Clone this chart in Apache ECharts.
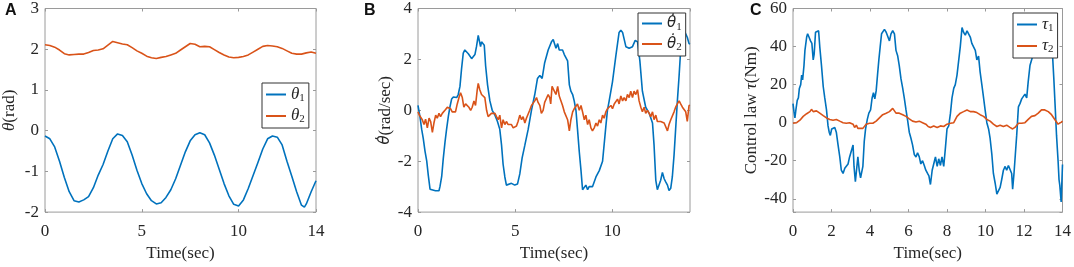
<!DOCTYPE html>
<html>
<head>
<meta charset="utf-8">
<script src="https://cdn.jsdelivr.net/npm/echarts@6/dist/echarts.min.js"></script>
<style>
  html, body { margin: 0; padding: 0; background: #fff; }
  #chart { width: 1074px; height: 267px; }
</style>
</head>
<body>
<div id="chart"></div>
<script>
// panel A: joint angles [t, rad]
const theta1 = [[0,-0.13],[0.25,-0.2],[0.5,-0.4],[0.75,-0.75],[1,-1.15],[1.25,-1.5],[1.5,-1.72],[1.75,-1.75],[2,-1.7],[2.25,-1.62],[2.5,-1.4],[2.75,-1.09],[3,-0.83],[3.25,-0.5],[3.5,-0.2],[3.75,-0.08],[4,-0.12],[4.25,-0.27],[4.5,-0.6],[4.75,-0.97],[5,-1.3],[5.25,-1.55],[5.5,-1.72],[5.75,-1.8],[6,-1.77],[6.25,-1.64],[6.5,-1.45],[6.75,-1.18],[7,-0.85],[7.25,-0.52],[7.5,-0.25],[7.75,-0.1],[8,-0.05],[8.25,-0.1],[8.5,-0.3],[8.75,-0.6],[9,-0.95],[9.25,-1.3],[9.5,-1.6],[9.75,-1.81],[10,-1.85],[10.25,-1.7],[10.5,-1.42],[10.75,-1.1],[11,-0.78],[11.25,-0.45],[11.5,-0.2],[11.75,-0.13],[12,-0.16],[12.25,-0.35],[12.5,-0.75],[12.75,-1.12],[13,-1.5],[13.25,-1.83],[13.4,-1.88],[13.5,-1.8],[13.75,-1.5],[14,-1.23]];
const theta2 = [[0,2.11],[0.25,2.09],[0.5,2.05],[0.75,1.98],[1,1.89],[1.25,1.86],[1.5,1.87],[1.75,1.88],[2,1.88],[2.25,1.92],[2.5,1.97],[2.75,1.98],[3,2.01],[3.25,2.1],[3.5,2.19],[3.75,2.16],[4,2.13],[4.25,2.11],[4.5,2.04],[4.75,1.96],[5,1.9],[5.25,1.83],[5.5,1.79],[5.75,1.77],[6,1.8],[6.25,1.82],[6.5,1.86],[6.75,1.9],[7,1.98],[7.25,2.06],[7.5,2.14],[7.75,2.12],[8,2.06],[8.25,2.07],[8.5,2.06],[8.75,1.99],[9,1.92],[9.25,1.86],[9.5,1.81],[9.75,1.79],[10,1.8],[10.25,1.82],[10.5,1.86],[10.75,1.93],[11,2],[11.25,2.07],[11.5,2.09],[11.75,2.08],[12,2.06],[12.25,2.02],[12.5,1.96],[12.75,1.9],[13,1.88],[13.25,1.88],[13.5,1.91],[13.75,1.93],[14,1.9]];

// panel B: joint velocities [t, rad/sec]
const dTheta1 = [[0,0.19],[0.1,-0.25],[0.19,-0.75],[0.27,-1.1],[0.36,-1.6],[0.45,-2],[0.53,-2.56],[0.62,-3.1],[0.7,-3.16],[0.9,-3.16],[1.08,-3.16],[1.13,-3],[1.22,-2.6],[1.3,-1.9],[1.39,-1.25],[1.47,-0.75],[1.56,-0.25],[1.64,0.12],[1.73,0.44],[1.82,0.52],[1.99,0.5],[2.07,0.62],[2.16,0.94],[2.24,1.62],[2.33,2.25],[2.41,2.37],[2.5,2.31],[2.59,2.22],[2.76,2.03],[2.84,2.1],[2.93,2.19],[3.01,2.5],[3.1,2.94],[3.15,3],[3.22,2.5],[3.27,2.69],[3.36,2.72],[3.41,2.56],[3.48,1.75],[3.58,1],[3.7,0.37],[3.82,0],[3.96,-0.19],[4.09,-0.44],[4.21,-0.75],[4.3,-1.37],[4.38,-2.12],[4.47,-2.62],[4.55,-2.94],[4.64,-3],[4.81,-2.87],[4.98,-2.94],[5.12,-2.9],[5.24,-2.5],[5.36,-1.87],[5.5,-1.37],[5.67,-0.75],[5.84,0],[6.01,0.62],[6.15,1.25],[6.27,1.37],[6.39,1.25],[6.52,1.87],[6.7,2.37],[6.87,2.69],[6.96,2.78],[7.1,2.44],[7.19,2.62],[7.27,2.37],[7.36,2.44],[7.44,2.37],[7.53,2.19],[7.61,2.12],[7.7,1.94],[7.79,1],[7.87,0.75],[7.96,0.62],[8.04,0.37],[8.13,0],[8.21,-0.75],[8.3,-1.62],[8.39,-2.37],[8.47,-3.12],[8.56,-3.16],[8.64,-2.94],[8.73,-3.12],[8.81,-3],[8.9,-3.06],[8.98,-3],[9.16,-2.62],[9.33,-2.37],[9.5,-2],[9.67,-0.62],[9.75,0],[9.84,0.37],[10.01,1.12],[10.18,2.12],[10.35,3.06],[10.44,3.15],[10.53,3.06],[10.7,2.5],[10.87,2.44],[11.04,2.5],[11.18,2.75],[11.3,2.69],[11.42,1.94],[11.55,0.75],[11.72,0.12],[11.9,-0.12],[12.07,-0.5],[12.15,-1.37],[12.24,-2.75],[12.32,-3.12],[12.41,-3.12],[12.49,-2.75],[12.58,-2.44],[12.67,-2.69],[12.75,-2.81],[12.84,-2.94],[12.92,-3.15],[13.01,-3.06],[13.09,-2.62],[13.18,-1.75],[13.26,-0.75],[13.35,0.37],[13.44,1.37],[13.52,2.37],[13.61,3],[13.69,3.15],[13.78,3.12],[13.86,2.87],[13.95,2.62],[14,2.6]];
const dTheta2 = [[0,-0.06],[0.07,-0.19],[0.14,-0.12],[0.22,-0.37],[0.31,-0.56],[0.39,-0.35],[0.48,-0.69],[0.57,-0.31],[0.65,-0.44],[0.74,-0.87],[0.82,-0.5],[0.91,-0.19],[0.99,-0.31],[1.08,-0.12],[1.16,-0.25],[1.25,-0.12],[1.34,-0.06],[1.42,0.03],[1.51,0.12],[1.59,0.12],[1.68,0.06],[1.76,-0.06],[1.85,-0.12],[1.93,-0.06],[2.02,0.25],[2.11,0.5],[2.19,0.69],[2.28,0.5],[2.36,0.12],[2.45,0.25],[2.53,0.19],[2.62,0.12],[2.71,0],[2.79,0.12],[2.88,0.37],[2.96,0.19],[3.05,0.81],[3.1,1.06],[3.18,0.81],[3.27,0.62],[3.36,0.69],[3.44,0.5],[3.53,0],[3.61,-0.25],[3.7,-0.19],[3.78,-0.12],[3.87,-0.19],[3.96,-0.12],[4.04,-0.25],[4.13,-0.37],[4.21,-0.19],[4.3,-0.69],[4.38,-0.37],[4.47,-0.56],[4.55,-0.44],[4.64,-0.56],[4.73,-0.5],[4.81,-0.56],[4.9,-0.69],[4.98,-0.75],[5.07,-0.62],[5.15,-0.44],[5.24,-0.19],[5.33,-0.37],[5.41,-0.25],[5.5,-0.5],[5.58,-0.31],[5.67,-0.25],[5.75,0],[5.84,0.19],[5.92,0.12],[6.01,0.37],[6.1,0.5],[6.18,0.31],[6.27,0.19],[6.35,-0.12],[6.44,0],[6.52,0.31],[6.61,0.25],[6.7,0.62],[6.78,0.5],[6.83,0.25],[6.9,0.94],[6.99,0.87],[7.1,0.62],[7.19,0.94],[7.27,0.56],[7.36,0.62],[7.44,0.19],[7.53,-0.06],[7.61,0],[7.7,-0.37],[7.79,-0.81],[7.87,-0.37],[7.96,-0.06],[8.04,0.06],[8.13,0.12],[8.21,0.25],[8.3,0],[8.39,0.19],[8.47,-0.06],[8.56,-0.37],[8.64,-0.19],[8.73,-0.56],[8.81,-0.37],[8.9,-0.69],[8.98,-0.81],[9.07,-0.69],[9.16,-0.5],[9.24,-0.62],[9.33,-0.37],[9.41,-0.5],[9.5,-0.19],[9.58,-0.31],[9.67,-0.06],[9.75,0.06],[9.84,0],[9.93,0.19],[10.01,0.06],[10.1,0.25],[10.18,0.19],[10.27,0.44],[10.35,0.25],[10.44,0.56],[10.53,0.37],[10.61,0.5],[10.7,0.37],[10.78,0.62],[10.87,0.5],[10.95,0.75],[11.04,0.5],[11.12,0.75],[11.21,0.62],[11.3,0.81],[11.38,0.37],[11.47,0.12],[11.55,-0.06],[11.64,0.12],[11.72,-0.12],[11.81,0],[11.9,-0.12],[11.98,-0.25],[12.07,-0.06],[12.15,-0.37],[12.24,-0.19],[12.32,-0.44],[12.41,-0.37],[12.49,-0.44],[12.58,-0.4],[12.67,-0.5],[12.75,-0.56],[12.84,-0.81],[12.92,-0.56],[13.01,-0.37],[13.09,-0.31],[13.18,-0.06],[13.26,0.12],[13.35,0.25],[13.44,0.37],[13.52,0.25],[13.61,0.12],[13.69,0.19],[13.78,-0.06],[13.86,-0.44],[13.95,0.19],[14,0.2]];

// panel C: control torques [t, Nm]
const tau1 = [[0,10],[0.05,5.8],[0.1,2.5],[0.15,6.7],[0.22,11.7],[0.28,13],[0.33,18],[0.4,20],[0.45,25],[0.5,22.5],[0.57,30],[0.62,38],[0.71,45],[0.76,46.7],[0.83,45],[0.91,43],[0.98,41.7],[1.05,33],[1.1,36],[1.17,47.5],[1.22,48.3],[1.27,46.7],[1.33,48.3],[1.39,40],[1.48,30],[1.57,19],[1.65,13],[1.74,6.7],[1.82,-1.7],[1.88,-5],[1.94,-6.7],[2.01,-3.3],[2.08,-2.5],[2.17,-2.5],[2.25,-5],[2.34,-11.7],[2.43,-18],[2.51,-25],[2.6,-26.7],[2.69,-24],[2.77,-25],[2.86,-21.7],[2.94,-18],[3.03,-19],[3.12,-11.7],[3.17,-23],[3.24,-31],[3.3,-25],[3.37,-18],[3.44,-25],[3.51,-29],[3.58,-28],[3.63,-23],[3.7,-10],[3.77,-3.3],[3.86,1.7],[3.94,5],[4.03,6.7],[4.11,13],[4.18,15.8],[4.25,12.5],[4.32,16.7],[4.39,25],[4.46,33],[4.53,40],[4.6,46.7],[4.66,47.5],[4.75,49],[4.84,47.5],[4.92,48.3],[5.01,43],[5.09,46.7],[5.18,48.3],[5.27,46.7],[5.35,38],[5.44,35],[5.52,30],[5.61,23],[5.7,18],[5.78,13],[5.87,6.7],[5.96,0.8],[6.04,-5],[6.13,-8.3],[6.21,-11.7],[6.3,-16.7],[6.39,-18],[6.47,-15.8],[6.56,-18],[6.64,-21.7],[6.73,-20],[6.82,-22.5],[6.9,-25],[6.99,-26.7],[7.06,-28],[7.14,-32.5],[7.23,-25],[7.31,-21.7],[7.4,-18],[7.49,-23],[7.57,-19],[7.66,-22.5],[7.74,-18],[7.83,-23],[7.92,-13],[8,-3.3],[8.09,-1.7],[8.18,5],[8.26,13],[8.35,18],[8.43,20],[8.52,25],[8.61,26],[8.69,40],[8.78,50],[8.86,47.5],[8.95,46],[9.04,48.3],[9.12,49],[9.21,45],[9.29,41.7],[9.38,40.8],[9.47,38],[9.55,33],[9.64,35],[9.72,26.7],[9.81,20],[9.9,13],[9.98,6.7],[10.07,0],[10.16,-3.3],[10.24,-8.3],[10.33,-16.7],[10.41,-26.7],[10.5,-31.7],[10.59,-37.5],[10.67,-36.7],[10.76,-34],[10.84,-30],[10.93,-25],[11.02,-23],[11.1,-25],[11.19,-22.5],[11.27,-23],[11.36,-26.7],[11.41,-35],[11.48,-26.7],[11.55,-16.7],[11.62,-6.7],[11.71,8.3],[11.79,10],[11.88,12.5],[11.96,13],[12.05,15],[12.14,13],[12.22,21.7],[12.31,30],[12.39,31],[12.48,36],[12.65,44],[12.91,48],[13.17,47],[13.34,42],[13.48,36],[13.55,23],[13.62,8.3],[13.69,-6.7],[13.77,-20],[13.82,-30],[13.86,-33],[13.93,-41.7],[14,-22]];
const tau2 = [[0,-0.3],[0.19,0],[0.36,1.3],[0.53,3.3],[0.71,4.7],[0.88,5.8],[0.96,7],[1.05,5.8],[1.22,6.2],[1.39,5],[1.57,3.7],[1.74,2.5],[1.91,1.7],[2.08,1.3],[2.25,1.7],[2.43,0.8],[2.6,0],[2.77,-0.3],[2.94,0],[3.12,-0.8],[3.2,-2.5],[3.29,-1.3],[3.37,-3],[3.46,-2.2],[3.63,-3],[3.8,-0.8],[3.98,-0.3],[4.15,-0.3],[4.32,0.8],[4.49,2.5],[4.66,4.2],[4.84,5],[5.01,5.8],[5.18,7.5],[5.35,5],[5.52,5],[5.7,4.2],[5.87,3.3],[6.04,2],[6.21,0.8],[6.39,0.3],[6.56,0.8],[6.73,0],[6.9,-0.8],[7.02,-2],[7.14,-2.5],[7.31,-1.7],[7.49,-2.5],[7.66,-1.7],[7.83,-2],[8,-0.8],[8.18,-0.3],[8.35,0],[8.52,3.3],[8.69,5],[8.86,5.8],[9.04,6.7],[9.21,5.8],[9.38,5.8],[9.55,5.3],[9.72,4.2],[9.9,3.3],[10.07,1.7],[10.24,0.8],[10.41,-0.8],[10.59,-2],[10.76,-1.3],[10.93,-2],[11.1,-1.3],[11.27,-2.5],[11.41,-3.3],[11.53,-2.5],[11.71,-0.3],[11.88,-0.3],[12.05,0],[12.22,1.7],[12.39,3.3],[12.57,3.7],[12.74,5],[12.91,6.7],[13.08,6.7],[13.26,5.8],[13.43,4.2],[13.6,1.7],[13.77,-0.8],[13.86,-1.7],[13.94,0.3],[14,0.8]];

const BLUE = '#0072BD';
const RED = '#D95319';
const SERIF = 'Liberation Serif';
const TXT = '#262626';
const BOX = '#9a9a9a';

const grids = [
  { left: 43, top: 7, width: 273, height: 213 },
  { left: 418, top: 7, width: 272, height: 213 },
  { left: 793, top: 7, width: 271, height: 213 }
];

// rich text pieces: italic symbol, dotted symbol (DejaVu Sans places the combining dot), plain, subscript
const richText = {
  i: { fontFamily: SERIF, fontStyle: 'italic', fontSize: 17, color: TXT },
  d: { fontFamily: 'DejaVu Sans', fontStyle: 'italic', fontSize: 15, color: TXT },
  n: { fontFamily: SERIF, fontSize: 17, color: TXT },
  s: { fontFamily: SERIF, fontSize: 11, color: TXT, verticalAlign: 'bottom', padding: [7, 0, 0, 0] }
};

const xRanges = [
  { interval: 5, showMax: true },
  { interval: 5, showMax: false },
  { interval: 2, showMax: true }
];
const yRanges = [
  { min: -2, max: 3, interval: 1 },
  { min: -4, max: 4, interval: 2 },
  { min: -47, max: 60 }
];
const yNames = ['{i|θ}{n|(rad)}', '{d|θ\u0307}{n|(rad/sec)}', '{n|Control law }{i|τ}{n|(Nm)}'];
const yGaps = [27, 22, 27];

const tickStyle = { inside: true, length: 3, lineStyle: { color: BOX } };
const xAxes = [];
const yAxes = [];
[0, 1, 2].forEach((g) => {
  const xr = xRanges[g];
  const yr = yRanges[g];
  xAxes.push({
    type: 'value', gridIndex: g, position: 'bottom', min: 0, max: 14, interval: xr.interval,
    axisLine: { show: false, onZero: false },
    axisTick: tickStyle,
    splitLine: { show: false },
    axisLabel: {
      fontFamily: SERIF, fontSize: 17, color: TXT, margin: 11, showMaxLabel: xr.showMax
    },
    name: 'Time(sec)', nameLocation: 'middle', nameGap: 22,
    nameTextStyle: { fontFamily: SERIF, fontSize: 17, color: TXT }
  });
  // mirrored ticks on top (box on)
  xAxes.push({
    type: 'value', gridIndex: g, position: 'top', min: 0, max: 14, interval: xr.interval,
    axisLine: { show: false, onZero: false }, axisLabel: { show: false }, splitLine: { show: false },
    axisTick: tickStyle
  });
  yAxes.push({
    type: 'value', gridIndex: g, position: 'left', min: yr.min, max: yr.max, interval: yr.interval,
    axisLine: { show: false, onZero: false },
    axisTick: tickStyle,
    splitLine: { show: false },
    axisLabel: {
      fontFamily: SERIF, fontSize: 17, color: TXT, margin: 6,
      formatter: (v) => (yr.interval == null && v % 20 !== 0 ? '' : String(v))
    },
    name: yNames[g], nameLocation: 'middle', nameRotate: 90, nameGap: yGaps[g],
    nameTextStyle: { rich: richText }
  });
  yAxes.push({
    type: 'value', gridIndex: g, position: 'right', min: yr.min, max: yr.max, interval: yr.interval,
    axisLine: { show: false, onZero: false }, axisLabel: { show: false }, splitLine: { show: false },
    axisTick: tickStyle
  });
});

const legendLabels = {
  't1': '{i|θ}{s|1}', 't2': '{i|θ}{s|2}',
  'dt1': '{d|θ\u0307}{s|1}', 'dt2': '{d|θ\u0307}{s|2}',
  'u1': '{i|τ}{s|1}', 'u2': '{i|τ}{s|2}'
};
const legendPos = [[262, 83], [638, 13], [1013, 13]];
const legendData = [['t1', 't2'], ['dt1', 'dt2'], ['u1', 'u2']];

const legends = legendPos.map((p, g) => ({
  left: p[0], top: p[1], orient: 'vertical',
  data: legendData[g],
  icon: 'rect', itemWidth: 20, itemHeight: 2, itemGap: 4,
  padding: [3, 4, 3, 4],
  backgroundColor: '#fff', borderColor: '#333', borderWidth: 1, borderRadius: 0,
  formatter: (name) => legendLabels[name],
  textStyle: { rich: richText },
  selectedMode: false
}));

function line(name, data, g, color) {
  return {
    name, type: 'line', data, xAxisIndex: g * 2, yAxisIndex: g * 2,
    symbol: 'none', showSymbol: false,
    lineStyle: { color, width: 1.6 }, itemStyle: { color },
    animation: false
  };
}

const chart = echarts.init(document.getElementById('chart'));
chart.setOption({
  animation: false,
  backgroundColor: '#fff',
  textStyle: { fontFamily: SERIF },
  grid: grids.map((g) => ({ ...g, show: true, borderColor: BOX, borderWidth: 1, backgroundColor: 'transparent' })),
  title: [
    { text: 'A', left: 5, top: 3 },
    { text: 'B', left: 364, top: 3 },
    { text: 'C', left: 750, top: 3 }
  ].map((t) => ({ ...t, padding: 0, textStyle: { fontFamily: 'Liberation Sans', fontWeight: 'bold', fontSize: 16, color: '#111' } })),
  legend: legends,
  xAxis: xAxes,
  yAxis: yAxes,
  series: [
    line('t1', theta1, 0, BLUE),
    line('t2', theta2, 0, RED),
    line('dt1', dTheta1, 1, BLUE),
    line('dt2', dTheta2, 1, RED),
    line('u1', tau1, 2, BLUE),
    line('u2', tau2, 2, RED)
  ]
});
</script>
</body>
</html>
